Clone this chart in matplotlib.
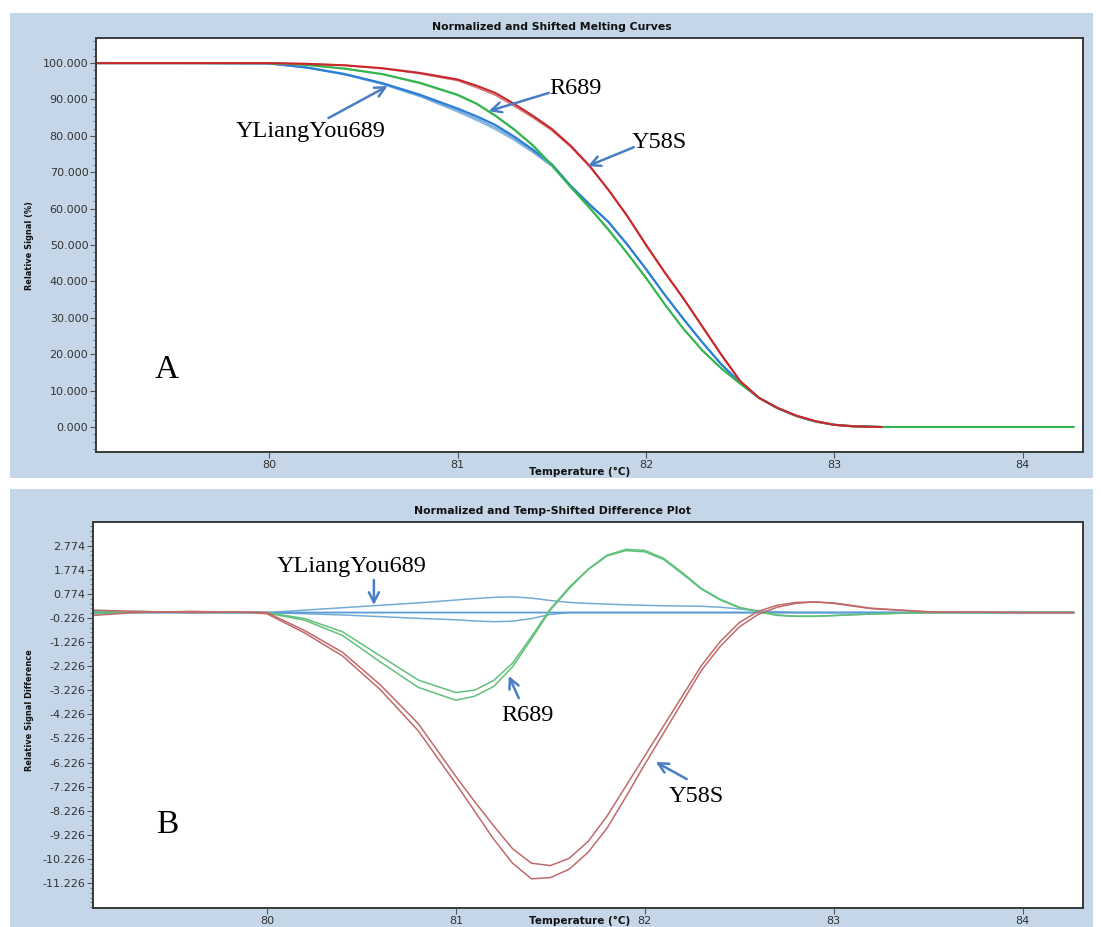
import matplotlib
matplotlib.use("Agg")
import matplotlib.pyplot as plt
from matplotlib.patches import Rectangle
from matplotlib.ticker import AutoMinorLocator, FixedLocator, FormatStrFormatter

# ---------------- data: top panel (normalized melting curves) ----------------
T_top = [79.08, 79.5, 80.0, 80.2, 80.4, 80.6, 80.8, 81.0, 81.1, 81.2, 81.3, 81.4, 81.5,
         81.6, 81.7, 81.8, 81.9, 82.0, 82.1, 82.2, 82.3, 82.4, 82.5, 82.6, 82.7, 82.8,
         82.9, 83.0, 83.1, 83.25]
T_top_green = T_top + [83.6, 84.27]

y58s_melt_1 = [100, 100, 100, 99.8, 99.4, 98.6, 97.3, 95.5, 93.8, 91.8, 88.8, 85.5, 81.9,
               77.3, 71.8, 65.2, 58.0, 50.0, 42.4, 35.2, 27.5, 19.8, 12.6, 8.0, 5.2, 3.1,
               1.6, 0.6, 0.2, 0.0]
y58s_melt_2 = [100, 100, 100, 99.8, 99.4, 98.5, 97.1, 95.2, 93.3, 91.2, 88.2, 85.0, 81.5,
               77.0, 71.6, 65.2, 58.1, 50.2, 42.6, 35.3, 27.6, 20.0, 12.7, 8.0, 5.2, 3.1,
               1.6, 0.6, 0.2, 0.0]
r689_melt_1 = [100, 100, 100, 99.5, 98.5, 97.0, 94.6, 91.3, 88.9, 85.6, 81.8, 77.4, 72.0,
               66.0, 60.3, 54.3, 47.8, 41.0, 33.7, 26.9, 21.0, 16.1, 11.9, 8.0, 5.2, 3.0,
               1.5, 0.6, 0.2, 0.0, 0.0, 0.0]
r689_melt_2 = [100, 100, 100, 99.5, 98.4, 96.9, 94.4, 91.1, 88.7, 85.4, 81.6, 77.2, 71.8,
               65.8, 60.1, 54.1, 47.7, 40.9, 33.6, 26.9, 21.0, 16.1, 11.9, 8.0, 5.2, 3.0,
               1.5, 0.6, 0.2, 0.0, 0.0, 0.0]
ylyou_melt_1 = [100, 100, 99.9, 98.8, 97.0, 94.5, 91.3, 87.5, 85.4, 83.0, 79.8, 76.2, 72.2,
                66.3, 61.2, 56.4, 50.2, 43.4, 36.3, 29.6, 23.2, 17.2, 12.2, 8.0, 5.1, 3.0,
                1.5, 0.6, 0.2, 0.0]
ylyou_melt_2 = [100, 100, 99.9, 98.7, 96.8, 94.2, 90.8, 86.6, 84.3, 81.8, 78.8, 75.4, 71.6,
                66.0, 61.0, 56.3, 50.1, 43.4, 36.3, 29.6, 23.2, 17.2, 12.2, 8.0, 5.1, 3.0,
                1.5, 0.6, 0.2, 0.0]
ylyou_melt_3 = [100, 100, 99.9, 98.7, 96.9, 94.3, 91.0, 87.0, 84.8, 82.3, 79.3, 75.8, 71.9,
                66.1, 61.1, 56.3, 50.1, 43.4, 36.3, 29.6, 23.2, 17.2, 12.2, 8.0, 5.1, 3.0,
                1.5, 0.6, 0.2, 0.0]

# ---------------- data: bottom panel (difference plot) ----------------
T_diff = [79.08, 79.3, 79.6, 79.9, 80.0, 80.2, 80.4, 80.6, 80.8, 81.0, 81.1, 81.2, 81.3,
          81.4, 81.5, 81.6, 81.7, 81.8, 81.9, 82.0, 82.1, 82.2, 82.3, 82.4, 82.5, 82.6,
          82.7, 82.8, 82.9, 83.0, 83.2, 83.5, 84.0, 84.27]

y58s_diff_1 = [-0.12, 0.0, 0.05, 0.0, -0.05, -0.85, -1.8, -3.2, -4.9, -7.1, -8.25, -9.4,
               -10.4, -11.05, -11.0, -10.65, -9.95, -8.95, -7.65, -6.3, -5.0, -3.7, -2.4,
               -1.4, -0.6, -0.08, 0.22, 0.38, 0.44, 0.4, 0.18, 0.03, 0.0, 0.0]
y58s_diff_2 = [0.1, 0.05, 0.0, 0.02, 0.0, -0.75, -1.65, -3.0, -4.6, -6.8, -7.85, -8.85,
               -9.8, -10.4, -10.5, -10.2, -9.5, -8.45, -7.2, -5.95, -4.7, -3.45, -2.2,
               -1.2, -0.42, 0.05, 0.3, 0.42, 0.44, 0.38, 0.16, 0.03, 0.0, 0.0]
r689_diff_1 = [0.05, 0.0, 0.02, 0.0, 0.0, -0.25, -0.8, -1.8, -2.8, -3.32, -3.22, -2.82,
               -2.1, -1.0, 0.15, 1.05, 1.8, 2.38, 2.62, 2.58, 2.25, 1.65, 1.0, 0.55, 0.22,
               0.05, -0.1, -0.15, -0.15, -0.12, -0.06, 0.0, 0.0, 0.0]
r689_diff_2 = [-0.05, 0.05, 0.0, 0.02, -0.02, -0.32, -0.95, -2.05, -3.1, -3.64, -3.47,
               -3.07, -2.25, -1.1, 0.1, 1.0, 1.78, 2.35, 2.57, 2.52, 2.2, 1.6, 0.97, 0.52,
               0.2, 0.03, -0.12, -0.16, -0.16, -0.13, -0.06, 0.0, 0.0, 0.0]
ylyou_diff_up = [0.08, 0.02, 0.0, 0.0, 0.0, 0.1, 0.2, 0.3, 0.4, 0.52, 0.58, 0.63, 0.65,
                 0.6, 0.5, 0.42, 0.38, 0.35, 0.32, 0.3, 0.28, 0.27, 0.26, 0.22, 0.15, 0.08,
                 0.03, 0.0, 0.0, 0.0, 0.0, 0.0, 0.0, 0.0]
ylyou_diff_low = [-0.05, 0.0, 0.0, 0.0, 0.0, -0.05, -0.1, -0.17, -0.24, -0.3, -0.35, -0.38,
                  -0.36, -0.25, -0.08, 0.0, 0.0, 0.0, 0.0, 0.0, 0.0, 0.0, 0.0, 0.0, 0.0,
                  0.0, 0.0, 0.0, 0.0, 0.0, 0.0, 0.0, 0.0, 0.0]
ylyou_diff_ref = [0.02, 0.0, 0.0, 0.0, 0.0, 0.0, 0.0, 0.0, 0.0, 0.0, 0.0, 0.0, 0.0, 0.0,
                  0.0, 0.0, 0.0, 0.0, 0.0, 0.0, 0.0, 0.0, 0.0, 0.0, 0.0, 0.0, 0.0, 0.0,
                  0.0, 0.0, 0.0, 0.0, 0.0, 0.0]

top_yticks = [0, 10, 20, 30, 40, 50, 60, 70, 80, 90, 100]
bottom_yticks = [-11.226, -10.226, -9.226, -8.226, -7.226, -6.226, -5.226, -4.226,
                 -3.226, -2.226, -1.226, -0.226, 0.774, 1.774, 2.774]
x_ticks = [80, 81, 82, 83, 84]

# ---------------- figure ----------------
W, H = 1101, 927
fig = plt.figure(figsize=(W / 100, H / 100), dpi=100)
fig.patch.set_facecolor("white")
BG = "#c4d6e8"


def fx(px):
    return px / W


def fy(py):
    return 1 - py / H


fig.patches.append(Rectangle((fx(10), fy(478)), fx(1093) - fx(10), fy(13) - fy(478),
                             transform=fig.transFigure, facecolor=BG, edgecolor="none",
                             zorder=-10))
fig.patches.append(Rectangle((fx(10), fy(927)), fx(1093) - fx(10), fy(489) - fy(927),
                             transform=fig.transFigure, facecolor=BG, edgecolor="none",
                             zorder=-10))

ax1 = fig.add_axes([fx(96), fy(452), fx(1083) - fx(96), fy(38) - fy(452)])
ax2 = fig.add_axes([fx(93), fy(908), fx(1083) - fx(93), fy(522) - fy(908)])
ax1.set_zorder(1)
ax2.set_zorder(1)

# top curves
ax1.plot(T_top, ylyou_melt_2, color="#86b6de", lw=1.1)
ax1.plot(T_top, ylyou_melt_3, color="#6fa6d8", lw=1.1)
ax1.plot(T_top, ylyou_melt_1, color="#2b7fd6", lw=1.6)
ax1.plot(T_top_green, r689_melt_2, color="#7ccf8c", lw=1.1)
ax1.plot(T_top_green, r689_melt_1, color="#34b44c", lw=1.5)
ax1.plot(T_top, y58s_melt_2, color="#d67a7a", lw=1.2)
ax1.plot(T_top, y58s_melt_1, color="#c8282c", lw=1.5)

# bottom curves
ax2.plot(T_diff, ylyou_diff_up, color="#74acd4", lw=1.1)
ax2.plot(T_diff, ylyou_diff_low, color="#74acd4", lw=1.1)
ax2.plot(T_diff, ylyou_diff_ref, color="#5a9ad6", lw=1.3)
ax2.plot(T_diff, r689_diff_1, color="#62c07c", lw=1.1)
ax2.plot(T_diff, r689_diff_2, color="#62c07c", lw=1.1)
ax2.plot(T_diff, y58s_diff_1, color="#c06a6a", lw=1.1)
ax2.plot(T_diff, y58s_diff_2, color="#c06a6a", lw=1.1)

ax1.set_xlim(79.08, 84.32)
ax1.set_ylim(-6.87, 106.9)
ax2.set_xlim(79.079, 84.32)
ax2.set_ylim(-12.26, 3.757)

for ax in (ax1, ax2):
    ax.set_facecolor("white")
    for s in ax.spines.values():
        s.set_color("#3a3a3a")
        s.set_linewidth(1.4)
    ax.xaxis.set_major_locator(FixedLocator(x_ticks))
    ax.set_xticklabels([str(t) for t in x_ticks])
    ax.tick_params(axis="both", which="major", direction="out", length=4, width=0.8,
                   color="#555555", labelsize=8, labelcolor="#333333", pad=1.5)
    ax.tick_params(axis="y", which="minor", direction="out", length=2.5, width=0.6,
                   color="#666666")

ax1.yaxis.set_major_locator(FixedLocator(top_yticks))
ax1.yaxis.set_major_formatter(FormatStrFormatter("%.3f"))
ax1.yaxis.set_minor_locator(AutoMinorLocator(5))
ax2.yaxis.set_major_locator(FixedLocator(bottom_yticks))
ax2.yaxis.set_major_formatter(FormatStrFormatter("%.3f"))
ax2.yaxis.set_minor_locator(AutoMinorLocator(5))
for ax in (ax1, ax2):
    for lab in ax.get_xticklabels() + ax.get_yticklabels():
        lab.set_family("DejaVu Sans")
        lab.set_fontsize(8)
        lab.set_color("#333333")

# titles and axis labels
title_kw = dict(fontsize=7.8, fontweight="bold", family="DejaVu Sans", ha="center",
                va="center", color="#111111")
fig.text(fx(552), fy(27), "Normalized and Shifted Melting Curves", **title_kw)
fig.text(fx(552), fy(511), "Normalized and Temp-Shifted Difference Plot", **title_kw)

xl_kw = dict(fontsize=7.5, fontweight="bold", family="DejaVu Sans", ha="center",
             va="center", color="#111111")
fig.text(fx(580), fy(472), "Temperature (°C)", **xl_kw)
fig.text(fx(580), fy(921), "Temperature (°C)", **xl_kw)

yl_kw = dict(fontsize=6.6, fontweight="bold", family="DejaVu Sans", stretch="condensed",
             ha="center", va="center", rotation=90, color="#111111")
fig.text(fx(30), fy(246), "Relative Signal (%)", **yl_kw)
fig.text(fx(30), fy(710), "Relative Signal Difference", **yl_kw)

# annotations
ARROW = "#4a7ec4"
serif = ["Liberation Serif", "DejaVu Serif"]
arr = dict(arrowstyle="->", color=ARROW, lw=1.8, mutation_scale=18, shrinkA=0, shrinkB=0)

ax1.text(80.218, 81.3, "YLiangYou689", fontsize=17.5, family=serif, ha="center", va="center")
ax1.annotate("", xy=(80.628, 93.7), xytext=(80.314, 84.9), arrowprops=arr)
ax1.text(81.628, 92.9, "R689", fontsize=17.5, family=serif, ha="center", va="center")
ax1.annotate("", xy=(81.165, 86.8), xytext=(81.484, 91.8), arrowprops=arr)
ax1.text(82.069, 78.3, "Y58S", fontsize=17.5, family=serif, ha="center", va="center")
ax1.annotate("", xy=(81.691, 71.7), xytext=(81.936, 76.9), arrowprops=arr)
ax1.text(79.457, 15.7, "A", fontsize=24, family=serif, ha="center", va="center")

ax2.text(80.45, 1.93, "YLiangYou689", fontsize=17.5, family=serif, ha="center", va="center")
ax2.annotate("", xy=(80.566, 0.31), xytext=(80.566, 1.35), arrowprops=arr)
ax2.text(81.381, -4.29, "R689", fontsize=17.5, family=serif, ha="center", va="center")
ax2.annotate("", xy=(81.28, -2.63), xytext=(81.333, -3.55), arrowprops=arr)
ax2.text(82.275, -7.65, "Y58S", fontsize=17.5, family=serif, ha="center", va="center")
ax2.annotate("", xy=(82.058, -6.2), xytext=(82.222, -6.91), arrowprops=arr)
ax2.text(79.471, -8.82, "B", fontsize=24, family=serif, ha="center", va="center")

fig.savefig("out.png", dpi=100, facecolor=fig.get_facecolor())
